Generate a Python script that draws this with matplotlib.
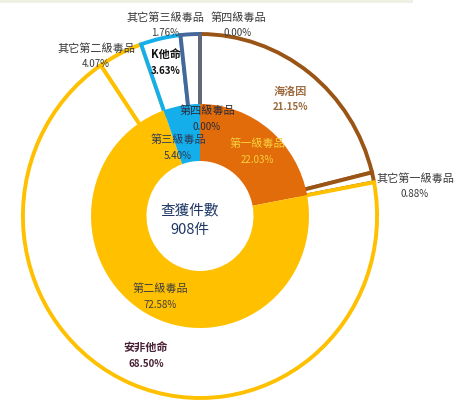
"""
Nested donut: seized drug cases by schedule
"""

import matplotlib
matplotlib.use('Agg')
import matplotlib.pyplot as plt
from matplotlib.patches import Rectangle

plt.rcParams['font.family'] = ['Noto Sans CJK TC', 'DejaVu Sans']

# data
inner_labels = ['第一級毒品', '第二級毒品', '第三級毒品', '第四級毒品']
inner_vals   = [22.03, 72.58, 5.40, 0.00]
outer_labels = ['海洛因', '其它第一級毒品', '安非他命', '其它第二級毒品',
                'K他命', '其它第三級毒品', '第四級毒品']
outer_vals   = [21.15, 0.88, 68.50, 4.07, 3.63, 1.76, 0.00]
center_title = '查獲件數'
center_total = '908件'

# styles
inner_colors = ['#E26B0A', '#FFC000', '#14AEEB', '#7F7F7F']
outer_edges  = ['#9A5516', '#9A5516', '#FFC000', '#FFC000',
                '#14AEEB', '#45679A', '#636878']

W, H = 460, 400
cx, cy = 200, 216          # pixel coords (y down)
r_out, r_mid, r_hole = 182, 112, 55
xsq = 0.973                # the original is slightly squeezed horizontally


def px(x, y):
  return cx + (x - cx) / xsq, H - y


fig = plt.figure(figsize=(W / 100, H / 100), dpi=100, facecolor='white')
ax = fig.add_axes([0, 0, 1, 1])

# outer ring: white slices with coloured outlines
wedges, _ = ax.pie(outer_vals, radius=r_out, center=(cx, H - cy), startangle=90,
                   counterclock=False, colors=['white'] * len(outer_vals),
                   wedgeprops=dict(width=r_out - 106, linewidth=2.8))
for w, ec in zip(wedges, outer_edges):
  w.set_edgecolor(ec)
  w.set_zorder(1)

# inner ring
wedges, _ = ax.pie(inner_vals, radius=r_mid, center=(cx, H - cy), startangle=90,
                   counterclock=False, colors=inner_colors,
                   wedgeprops=dict(width=r_mid - r_hole, linewidth=0))
for w in wedges:
  w.set_zorder(3)

ax.set_aspect('auto')
ax.set_xlim(px(0, 0)[0], px(W, 0)[0])
ax.set_ylim(0, H)
ax.axis('off')
ax.add_patch(Rectangle(px(0, 3), 413 / xsq, 3, color='#EEF0E3', lw=0, zorder=0))

# label layout (pixel positions)
inner_pos = [(257, 143), (160, 288), (178, 139), (207, 110)]
inner_tc  = ['#F7D23E', '#404040', '#2B3A55', '#2B2B3B']
outer_pos = [(290, 91), (415, 178), (146, 348), (96, 48),
             (166, 55), (165, 17), (238, 17)]
outer_tc  = ['#9C6B3F', '#3A3A3A', '#4A2235', '#3A3A3A',
             '#111111', '#3A3A3A', '#3A3A3A']
outer_bold = [True, False, True, False, True, False, False]

for lab, v, (x, y), c in zip(inner_labels, inner_vals, inner_pos, inner_tc):
  ax.text(*px(x, y), lab, ha='center', va='center', fontsize=8, color=c, zorder=5)
  ax.text(*px(x, y + 17), '{:.2f}%'.format(v), ha='center', va='center',
          fontsize=7, color=c, zorder=5)

for lab, v, (x, y), c, b in zip(outer_labels, outer_vals, outer_pos, outer_tc, outer_bold):
  fw = 'bold' if b else 'normal'
  ax.text(*px(x, y), lab, ha='center', va='center', fontsize=8, color=c,
          fontweight=fw, zorder=5)
  ax.text(*px(x, y + 16), '{:.2f}%'.format(v), ha='center', va='center',
          fontsize=7, color=c, fontweight=fw, zorder=5)

ax.text(*px(190, 210), center_title, ha='center', va='center', fontsize=10.5,
        color='#1F3864', zorder=5)
ax.text(*px(190, 230), center_total, ha='center', va='center', fontsize=10.5,
        color='#1F3864', zorder=5)

fig.savefig('out.png', dpi=100, facecolor='white')
